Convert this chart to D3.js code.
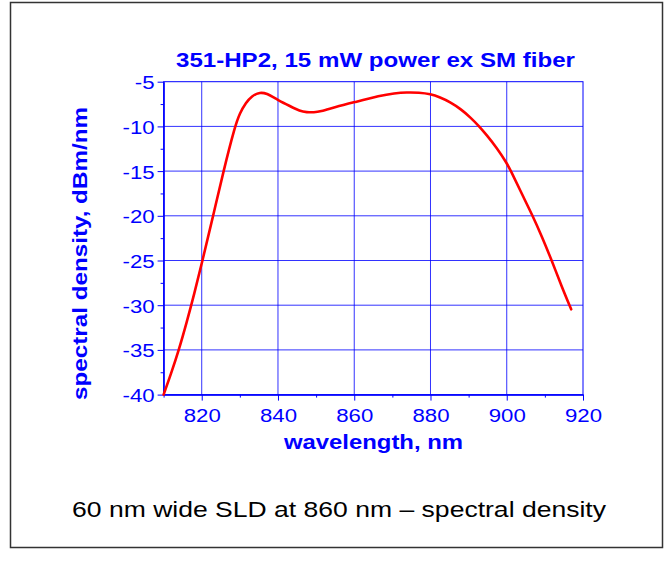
<!DOCTYPE html>
<html><head><meta charset="utf-8">
<script src="https://cdn.jsdelivr.net/npm/d3@7/dist/d3.min.js"></script>
<style>
body{margin:0;background:#fff;}
text{font-family:"Liberation Sans",Arial,sans-serif;}
</style></head><body>
<svg id="c" width="672" height="563"></svg>
<script>
// ---- data ----
const title = "351-HP2, 15 mW power ex SM fiber";
const xLabel = "wavelength, nm";
const yLabel = "spectral density, dBm/nm";
const caption = "60 nm wide SLD at 860 nm \u2013 spectral density";
const xTicks = [820, 840, 860, 880, 900, 920];
const xMinor = [810, 830, 850, 870, 890, 910];
const yTicks = [-5, -10, -15, -20, -25, -30, -35, -40];
const yMinor = [-7.5, -12.5, -17.5, -22.5, -27.5, -32.5, -37.5];
const wavelength = [810.0, 812.0, 814.0, 816.0, 818.0, 820.2, 823.0, 825.7, 828.7, 830.0, 831.6, 833.1, 835.3, 837.2, 838.8, 840.0, 843.0, 845.8, 847.5, 849.5, 851.0, 855.0, 860.0, 866.8, 870.5, 873.8, 877.0, 880.0, 882.5, 885.1, 888.0, 890.5, 892.8, 894.7, 897.4, 900.0, 901.0, 903.9, 906.8, 909.2, 911.8, 914.4, 916.9];
const density = [-40.0, -37.6, -35.0, -32.0, -28.8, -25.0, -20.0, -15.0, -10.0, -8.5, -7.35, -6.6, -6.15, -6.35, -6.75, -7.05, -7.7, -8.3, -8.42, -8.43, -8.36, -7.85, -7.3, -6.55, -6.3, -6.19, -6.22, -6.38, -6.75, -7.27, -8.08, -9.0, -10.0, -10.95, -12.4, -14.1, -14.9, -17.5, -20.0, -22.3, -25.0, -27.9, -30.46];

// ---- layout ----
const svg = d3.select("#c");
const L = 163.6, R = 583, T = 81.7, B = 394.6;
const x = d3.scaleLinear().domain([810, 920]).range([L, R]);
const y = d3.scaleLinear().domain([-40, -5]).range([B, T]);
const blue = "#0000ff";
const SX = 1.17;

// outer frame
svg.append("rect").attr("x", 10.5).attr("y", 2.5).attr("width", 652).attr("height", 545)
  .attr("fill", "none").attr("stroke", "#333").attr("stroke-width", 1.5);

// gridlines
const g = svg.append("g");
g.selectAll("line.vx").data(xTicks.slice(0, -1)).join("line")
  .attr("x1", d => x(d)).attr("x2", d => x(d)).attr("y1", T).attr("y2", B)
  .attr("stroke", blue).attr("stroke-width", 1).attr("opacity", 0.8);
g.selectAll("line.hy").data(yTicks.slice(1, -1)).join("line")
  .attr("x1", L).attr("x2", R).attr("y1", d => y(d)).attr("y2", d => y(d))
  .attr("stroke", blue).attr("stroke-width", 1).attr("opacity", 0.8);
// plot box
svg.append("rect").attr("x", L).attr("y", T).attr("width", R - L).attr("height", B - T)
  .attr("fill", "none").attr("stroke", blue).attr("stroke-width", 1);

// axes
const ax = svg.append("g").attr("transform", `translate(0,${B})`)
  .call(d3.axisBottom(x).tickValues(xTicks).tickSize(6).tickSizeOuter(0).tickFormat(d3.format("d")));
const axm = svg.append("g").attr("transform", `translate(0,${B})`)
  .call(d3.axisBottom(x).tickValues(xMinor).tickSize(3).tickSizeOuter(0).tickFormat(""));
const ay = svg.append("g").attr("transform", `translate(${L},0)`)
  .call(d3.axisLeft(y).tickValues(yTicks).tickSize(6).tickSizeOuter(0).tickFormat(d => d3.format("d")(d).replace("\u2212", "-")));
const aym = svg.append("g").attr("transform", `translate(${L},0)`)
  .call(d3.axisLeft(y).tickValues(yMinor).tickSize(3).tickSizeOuter(0).tickFormat(""));
[ax, axm, ay, aym].forEach(a => {
  a.select(".domain").attr("stroke", blue);
  a.selectAll(".tick line").attr("stroke", blue);
  a.selectAll(".tick text").attr("fill", blue).attr("font-size", 19)
   .attr("font-family", '"Liberation Sans",Arial,sans-serif');
});
ax.selectAll(".tick text").attr("dy", null).attr("y", 0)
  .attr("transform", `translate(0,27) scale(${SX},1)`);
ay.selectAll(".tick text").attr("dy", null).attr("x", 0)
  .attr("transform", `translate(-9,7) scale(${SX},1)`);

// curve
const pts = wavelength.map((w, i) => [w, density[i]]);
svg.append("path").datum(pts)
  .attr("d", d3.line().x(d => x(d[0])).y(d => y(d[1])).curve(d3.curveBasis))
  .attr("fill", "none").attr("stroke", "#ff0000").attr("stroke-width", 2.6)
  .attr("stroke-linejoin", "round").attr("stroke-linecap", "round");

// texts
svg.append("text").attr("x", 375.5).attr("y", 67)
  .attr("text-anchor", "middle").attr("font-weight", "bold").attr("font-size", 20)
  .attr("textLength", 399).attr("lengthAdjust", "spacingAndGlyphs")
  .attr("fill", blue).text(title);
svg.append("text").attr("x", 373.5).attr("y", 449)
  .attr("text-anchor", "middle").attr("font-weight", "bold").attr("font-size", 20)
  .attr("textLength", 179).attr("lengthAdjust", "spacingAndGlyphs")
  .attr("fill", blue).text(xLabel);
svg.append("text").attr("transform", `translate(87,253.5) rotate(-90)`)
  .attr("text-anchor", "middle").attr("font-weight", "bold").attr("font-size", 21)
  .attr("textLength", 293).attr("lengthAdjust", "spacingAndGlyphs")
  .attr("fill", blue).text(yLabel);
svg.append("text").attr("x", 339).attr("y", 517)
  .attr("text-anchor", "middle").attr("font-size", 22)
  .attr("textLength", 534).attr("lengthAdjust", "spacingAndGlyphs")
  .attr("fill", "#000").text(caption);
</script>
</body></html>
